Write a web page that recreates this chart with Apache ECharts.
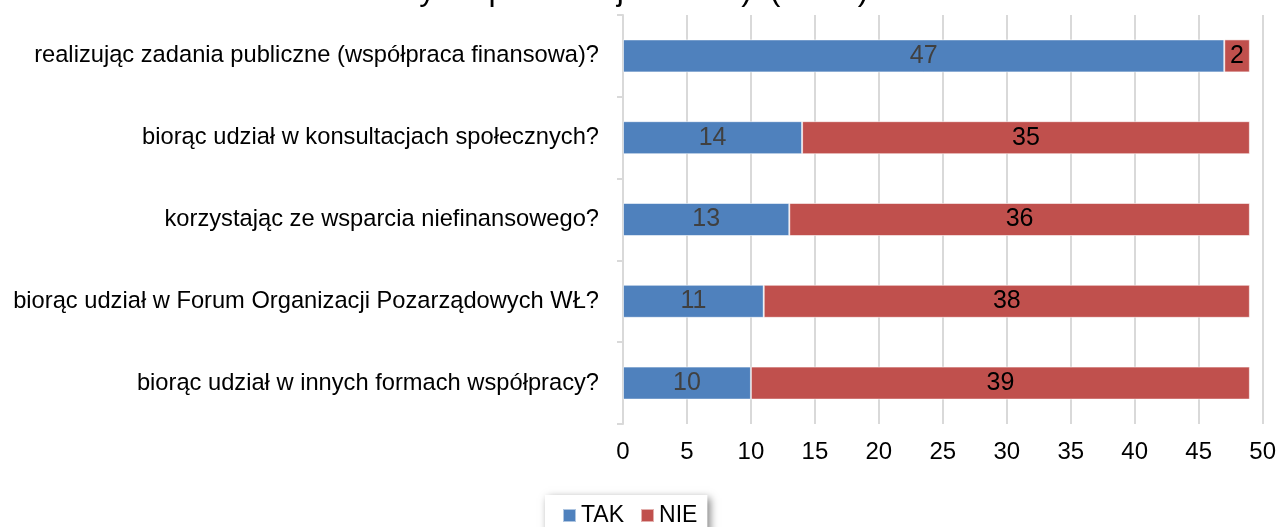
<!DOCTYPE html>
<html><head><meta charset="utf-8">
<script src="https://cdn.jsdelivr.net/npm/echarts@6/dist/echarts.min.js"></script>
<style>html,body{margin:0;padding:0;background:#fff}#c{width:1279px;height:527px}</style>
</head><body><div id="c"></div>
<script>
const categories = [
  'realizując zadania publiczne (współpraca finansowa)?',
  'biorąc udział w konsultacjach społecznych?',
  'korzystając ze wsparcia niefinansowego?',
  'biorąc udział w Forum Organizacji Pozarządowych WŁ?',
  'biorąc udział w innych formach współpracy?'
];
const takValues = [47, 14, 13, 11, 10];
const nieValues = [2, 35, 36, 38, 39];
const titleText = 'Polityki Społecznej w Łodzi). (N=49)';
const FONT = '"Liberation Sans", Arial, sans-serif';

const chart = echarts.init(document.getElementById('c'), null, {renderer: 'canvas'});
chart.setOption({
  animation: false,
  textStyle: {fontFamily: FONT},
  graphic: [{
    type: 'text', left: 357, top: -25,
    style: {text: titleText, font: '32px ' + FONT, fill: '#000'}
  }],
  legend: {
    data: ['TAK', 'NIE'],
    left: 545, top: 495,
    icon: 'rect', itemWidth: 13, itemHeight: 13, itemGap: 16,
    padding: [9, 10, 9, 17],
    backgroundColor: '#fff',
    shadowBlur: 8, shadowColor: 'rgba(0,0,0,0.5)', shadowOffsetX: 3, shadowOffsetY: 3,
    textStyle: {fontSize: 23, color: '#000', fontFamily: FONT}
  },
  grid: {left: 623, right: 16, top: 15, bottom: 103, containLabel: false},
  xAxis: {
    type: 'value', min: 0, max: 50, interval: 5,
    axisLine: {show: false}, axisTick: {show: false},
    axisLabel: {fontSize: 24, color: '#000', margin: 16, fontFamily: FONT},
    splitLine: {show: true, lineStyle: {color: '#d9d9d9', width: 2}}
  },
  yAxis: {
    type: 'category', data: categories, inverse: true,
    axisLine: {show: true, lineStyle: {color: '#d9d9d9', width: 2}},
    axisTick: {show: true, length: 6, lineStyle: {color: '#d9d9d9', width: 2}},
    axisLabel: {fontSize: 23.7, color: '#000', margin: 24, fontFamily: FONT}
  },
  series: [
    {
      name: 'TAK', type: 'bar', stack: 'a', data: takValues, barWidth: 33,
      itemStyle: {color: '#4f81bd', borderColor: 'rgba(255,255,255,0.55)', borderWidth: 1},
      label: {show: true, position: 'inside', fontSize: 25, color: '#404040', fontFamily: FONT}
    },
    {
      name: 'NIE', type: 'bar', stack: 'a', data: nieValues, barWidth: 33,
      itemStyle: {color: '#c0504d', borderColor: 'rgba(255,255,255,0.55)', borderWidth: 1},
      label: {show: true, position: 'inside', fontSize: 25, color: '#000', fontFamily: FONT}
    }
  ]
});
</script></body></html>
